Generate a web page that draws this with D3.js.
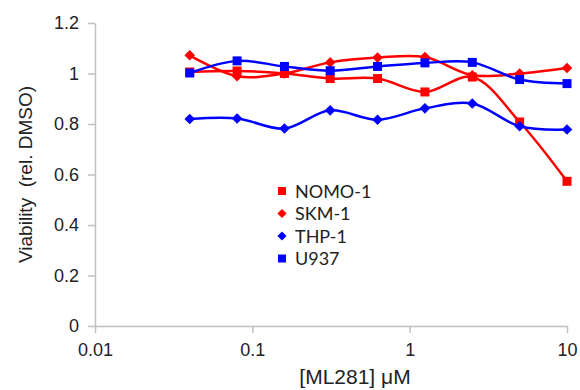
<!DOCTYPE html>
<html>
<head>
<meta charset="utf-8">
<script src="https://cdnjs.cloudflare.com/ajax/libs/d3/7.8.5/d3.min.js"></script>
<style>
  body { margin: 0; background: #fff; }
  text { font-family: "Liberation Sans", Arial, sans-serif; fill: #222; }
</style>
</head>
<body>
<div id="chart"></div>
<script>
// concentrations in uM (2-fold dilution series)
const doses = [0.04, 0.08, 0.16, 0.3125, 0.625, 1.25, 2.5, 5, 10];
const nomo1 = [1.006, 1.01, 1.0, 0.98, 0.98, 0.927, 0.986, 0.808, 0.573];
const skm1 = [1.072, 0.989, 1.0, 1.044, 1.063, 1.065, 0.993, 1.0, 1.022];
const thp1 = [0.82, 0.822, 0.782, 0.854, 0.817, 0.862, 0.881, 0.791, 0.778];
const u937 = [1.002, 1.05, 1.028, 1.011, 1.028, 1.042, 1.044, 0.976, 0.96];
const seriesNames = ["NOMO-1", "SKM-1", "THP-1", "U937"];
const yTicks = [0, 0.2, 0.4, 0.6, 0.8, 1, 1.2];
const xTicks = [0.01, 0.1, 1, 10];

const render = () => {
  const width = 580, height = 390;
  const margin = { left: 95, right: 13, top: 23, bottom: 64 };

  // square markers, diamonds are squares turned 45deg
  const series = [
    { name: seriesNames[0], values: nomo1, color: "#ff0000", diamond: false },
    { name: seriesNames[1], values: skm1, color: "#ff0000", diamond: true },
    { name: seriesNames[2], values: thp1, color: "#0000ff", diamond: true },
    { name: seriesNames[3], values: u937, color: "#0000ff", diamond: false }
  ];

  const svg = d3.select("#chart")
    .append("svg")
    .attr("width", width)
    .attr("height", height);

  const x = d3.scaleLog()
    .domain([0.01, 10])
    .range([margin.left, width - margin.right]);
  const y = d3.scaleLinear()
    .domain([0, 1.2])
    .range([height - margin.bottom, margin.top]);

  // y axis
  const yAxis = svg.append("g")
    .attr("transform", `translate(${margin.left},0)`)
    .call(d3.axisLeft(y).tickValues(yTicks).tickFormat(d => d3.format("")(d)).tickSize(7).tickPadding(9).tickSizeOuter(0));
  // x axis
  const xAxis = svg.append("g")
    .attr("transform", `translate(0,${height - margin.bottom})`)
    .call(d3.axisBottom(x).tickValues(xTicks).tickFormat(d => d3.format("")(d)).tickSize(7).tickPadding(10).tickSizeOuter(0));

  [xAxis, yAxis].forEach(ax => {
    ax.select(".domain").attr("stroke", "#c0c0c0").attr("stroke-width", 1.5);
    ax.selectAll(".tick line").attr("stroke", "#c0c0c0").attr("stroke-width", 1.5);
    ax.selectAll(".tick text")
      .attr("fill", "#222")
      .style("font-family", "'Liberation Sans', Arial, sans-serif")
      .style("font-size", "18px");
  });

  // axis titles
  svg.append("text")
    .attr("transform", `translate(32,${(margin.top + height - margin.bottom) / 2}) rotate(-90)`)
    .attr("text-anchor", "middle")
    .style("font-size", "19px")
    .style("white-space", "pre")
    .text("Viability  (rel. DMSO)");

  svg.append("text")
    .attr("x", 355)
    .attr("y", 384)
    .attr("text-anchor", "middle")
    .style("font-size", "21px")
    .html("[ML281] <tspan>\u03bc</tspan>M");

  // lines
  const line = d3.line()
    .x((d, i) => x(doses[i]))
    .y(d => y(d))
    .curve(d3.curveCatmullRom.alpha(0.5));

  const mark = side => d3.symbol().type(d3.symbolSquare).size(side * side)();

  series.forEach(s => {
    const g = svg.append("g");
    g.append("path")
      .attr("d", line(s.values))
      .attr("fill", "none")
      .attr("stroke", s.color)
      .attr("stroke-width", 2.5);
    g.selectAll("path.mark")
      .data(s.values)
      .enter()
      .append("path")
      .attr("class", "mark")
      .attr("transform", (d, i) => `translate(${x(doses[i])},${y(d)})` + (s.diamond ? " rotate(45)" : ""))
      .attr("d", mark(s.diamond ? 7.5 : 9))
      .attr("fill", s.color);
  });

  // legend
  const legend = svg.append("g")
    .attr("transform", "translate(282,191)");
  const row = legend.selectAll("g")
    .data(series)
    .enter()
    .append("g")
    .attr("transform", (d, i) => `translate(0,${i * 22.5})`);
  row.append("path")
    .attr("transform", d => d.diamond ? "rotate(45)" : null)
    .attr("d", d => mark(d.diamond ? 6.5 : 8))
    .attr("fill", d => d.color);
  row.append("text")
    .attr("x", 13)
    .attr("y", 6.5)
    .style("font-family", "Lato, 'Open Sans', sans-serif")
    .style("font-size", "18px")
    .text(d => d.name);
};

document.addEventListener("DOMContentLoaded", render);
</script>
</body>
</html>
